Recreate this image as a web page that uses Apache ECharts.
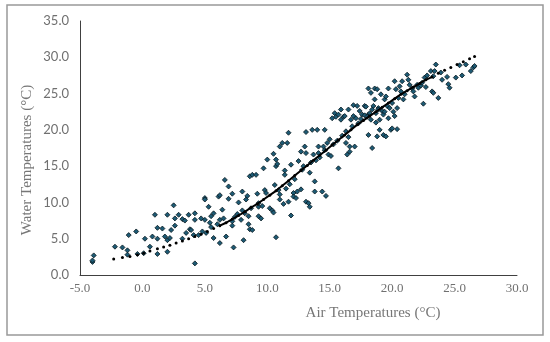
<!DOCTYPE html>
<html><head><meta charset="utf-8">
<script src="https://cdn.jsdelivr.net/npm/echarts@6/dist/echarts.min.js"></script>
<style>html,body{margin:0;padding:0;background:#fff}#c{width:550px;height:342px}</style>
</head><body><div id="c"></div>
<script>
var obsX = [-4.0,-4.0,-3.9,-2.2,-1.6,-1.1,-1.2,-1.2,-0.5,-0.4,0.2,0.1,0.6,0.8,1.0,1.2,1.2,1.2,1.6,1.8,2.0,2.0,2.0,2.2,2.3,2.5,2.6,2.6,2.9,3.2,3.4,3.7,3.8,3.9,4.2,4.2,4.2,4.1,4.5,4.7,5.0,5.0,5.0,5.1,5.3,5.4,5.5,5.7,5.7,6.2,6.1,6.2,6.2,6.4,6.6,6.7,6.9,6.9,7.2,7.2,7.2,7.3,7.6,7.7,7.9,8.0,8.1,8.2,8.3,8.4,8.5,8.5,8.6,8.6,8.8,8.8,9.1,9.2,9.3,9.3,9.3,9.5,9.7,9.8,9.9,10.0,10.2,10.4,10.5,10.5,10.6,10.7,10.7,10.7,10.8,10.9,11.0,11.0,11.0,11.2,11.3,11.4,11.4,11.5,11.6,11.7,11.7,11.9,11.9,12.1,12.1,12.3,12.4,12.5,12.7,12.7,12.9,13.0,13.1,13.1,13.1,13.3,13.4,13.4,13.6,13.7,13.8,13.8,14.0,14.1,14.1,14.4,14.5,14.6,14.7,14.8,14.9,15.0,15.1,15.2,15.4,15.5,15.7,15.7,15.9,15.9,16.1,16.2,16.3,16.4,16.5,16.5,16.6,16.6,16.7,16.9,16.9,17.0,17.1,17.2,17.4,17.6,17.8,17.9,18.1,18.1,18.1,18.2,18.3,18.3,18.4,18.5,18.6,18.6,18.7,18.8,18.8,18.9,19.0,19.0,19.1,19.2,19.3,19.3,19.4,19.5,19.5,19.6,19.7,19.7,19.9,20.0,20.0,20.2,20.2,20.3,20.4,20.4,20.5,20.6,20.7,20.8,20.9,21.0,21.2,21.3,21.4,21.6,21.7,21.8,22.0,22.1,22.3,22.4,22.5,22.6,22.7,22.8,23.1,23.2,23.3,23.3,23.4,23.5,23.7,23.9,24.0,24.4,24.5,24.6,25.1,25.4,25.6,25.9,26.3,26.5,26.6,17.5,17.8,18.0,18.4,18.9,19.4,19.8,20.1,18.7,17.3,16.8,16.3,16.0,15.6,15.3,13.5,13.9,14.2,12.8,12.2,11.8,14.6,7.4,8.0,8.7,9.6,6.5,6.0,4.8,5.5,3.2,3.5];
var obsY = [1.8,2.0,2.7,3.9,3.8,5.5,3.4,2.8,6.0,2.9,5.0,3.0,3.9,5.3,8.3,6.5,5.0,2.9,6.4,5.3,8.3,4.8,3.2,5.1,6.2,9.6,7.8,6.8,8.3,7.7,7.5,8.3,6.3,6.2,8.5,7.6,1.6,5.5,5.5,7.8,10.6,10.4,7.6,5.8,9.4,7.2,8.1,8.5,5.1,7.6,10.8,4.4,11.0,9.0,13.1,5.3,12.2,10.5,11.2,7.4,6.8,3.8,8.4,10.0,7.6,11.5,4.8,8.5,10.4,10.9,8.1,7.0,6.3,13.6,13.8,6.2,13.8,11.2,9.4,9.9,8.1,7.8,14.7,11.7,11.3,15.9,9.2,8.9,16.7,8.6,12.4,15.0,5.2,15.9,15.3,11.7,11.1,17.7,10.4,18.2,9.8,14.4,13.8,11.9,18.2,19.6,10.1,8.2,15.2,11.3,10.8,10.6,11.5,15.7,17.0,11.8,15.0,17.7,19.7,16.8,10.1,9.9,14.1,9.4,20.0,16.6,12.9,11.5,20.0,17.7,16.8,11.5,17.7,20.0,10.9,18.2,16.6,18.7,16.4,21.6,22.3,21.8,22.1,14.7,22.8,21.4,21.8,21.9,18.2,16.6,22.8,19.0,17.0,17.7,21.4,21.9,23.4,17.7,21.6,23.3,22.6,22.1,23.3,23.2,22.1,25.7,19.3,22.3,25.1,21.4,17.5,23.3,24.2,25.7,22.3,19.1,25.6,23.0,21.4,20.0,24.9,22.6,19.3,22.1,24.2,19.1,24.6,23.3,25.7,21.6,20.0,23.7,20.2,26.7,21.9,25.6,20.1,23.0,24.4,26.0,25.3,26.7,24.2,24.9,27.6,26.9,26.2,25.7,25.3,24.6,26.2,25.8,26.1,26.5,23.6,27.2,25.9,27.5,28.1,25.3,27.4,25.1,28.1,29.0,24.4,27.9,26.9,27.3,26.3,25.8,27.2,28.9,27.5,29.0,28.1,28.6,28.8,21.5,22.0,21.8,22.8,22.8,22.5,23.0,22.5,21.0,20.9,20.5,19.8,19.2,18.5,18.0,15.5,15.8,16.2,14.5,13.2,12.5,17.2,8.0,8.9,9.2,9.5,7.8,7.0,6.0,6.6,5.0,5.8];
var fitX = [-2.3,-1.6,-1.0,-0.4,0.1,0.6,1.2,1.7,2.2,2.7,3.2,3.7,4.2,4.7,5.2,5.7,6.2,6.7,7.2,7.7,8.2,8.7,9.2,9.7,10.2,10.7,11.2,11.7,12.2,12.7,13.2,13.7,14.2,14.7,15.2,15.7,16.2,16.7,17.2,17.7,18.2,18.7,19.2,19.7,20.2,20.7,21.2,21.7,22.2,22.7,23.2,23.7,24.2,24.7,25.2,25.7,26.2,26.6];
var fitY = [2.2,2.4,2.55,2.8,3.0,3.3,3.6,3.85,4.1,4.4,4.7,5.0,5.3,5.6,6.0,6.4,6.8,7.2,7.7,8.2,8.7,9.3,9.8,10.4,11.0,11.6,12.3,13.0,13.7,14.4,15.1,15.8,16.5,17.2,17.9,18.6,19.3,20.0,20.7,21.3,21.9,22.5,23.1,23.7,24.3,24.9,25.4,25.9,26.4,26.9,27.3,27.8,28.2,28.6,29.0,29.4,29.8,30.1];
var xTicks = [-5,0,5,10,15,20,25,30];
var yTicks = [0,5,10,15,20,25,30,35];

var obs = obsX.map(function(x,i){return [x,obsY[i]];});
var fit = fitX.map(function(x,i){return [x,fitY[i]];});
var fitSolid = fit.filter(function(p){return p[0]>=6.0 && p[0]<=23.5;});

var chart = echarts.init(document.getElementById('c'), null, {renderer:'canvas'});
chart.setOption({
  animation:false,
  backgroundColor:'#fff',
  grid:{left:80,right:33,top:21,bottom:67,containLabel:false},
  xAxis:{type:'value',min:xTicks[0],max:xTicks[xTicks.length-1],interval:5,
    axisLine:{onZero:false,lineStyle:{color:'#404040',width:1}},axisTick:{show:false},splitLine:{show:false},
    axisLabel:{formatter:function(v){return v.toFixed(1);},color:'#707070',fontFamily:'Liberation Serif',fontSize:13,margin:7}},
  yAxis:{type:'value',min:yTicks[0],max:yTicks[yTicks.length-1],interval:5,
    axisLine:{show:true,onZero:false,lineStyle:{color:'#404040',width:1}},axisTick:{show:false},splitLine:{show:false},
    axisLabel:{formatter:function(v){return v.toFixed(1);},color:'#707070',fontFamily:'Lato',fontSize:13,margin:11}},
  graphic:[
    {type:'rect',shape:{x:7,y:5,width:536,height:330},style:{fill:'none',stroke:'#999',lineWidth:1.5},z:-1},
    {type:'text',x:373,y:313,style:{text:'Air Temperatures (°C)',fill:'#777',font:'15px "Liberation Serif"',textAlign:'center',textVerticalAlign:'middle'}},
    {type:'text',x:27,y:160,rotation:Math.PI/2,style:{text:'Water Temperatures (°C)',fill:'#777',font:'15px "Liberation Serif"',textAlign:'center',textVerticalAlign:'middle'}}
  ],
  series:[
    {type:'scatter',data:obs,symbol:'diamond',symbolSize:5,itemStyle:{color:'#1d5a74',borderColor:'#06161d',borderWidth:0.8,opacity:1},z:2},
    {type:'line',data:fitSolid,showSymbol:false,lineStyle:{color:'#000',width:2},z:3},
    {type:'scatter',data:fit,symbolSize:3,itemStyle:{color:'#000',opacity:1},z:3}
  ]
});
</script></body></html>
